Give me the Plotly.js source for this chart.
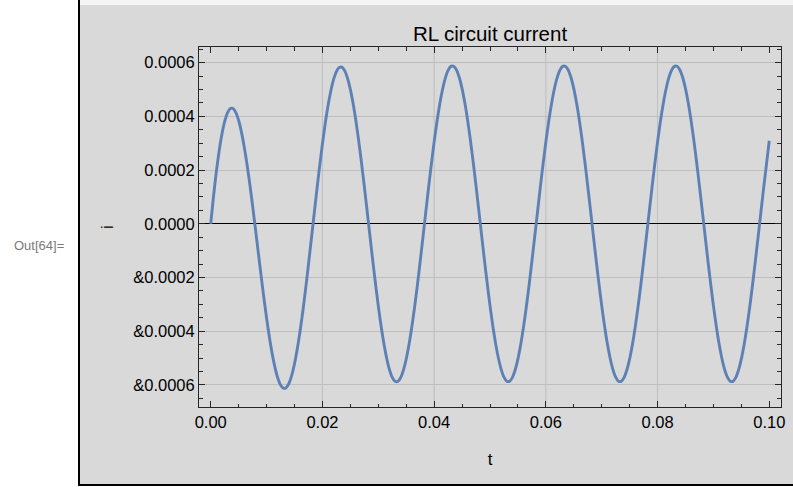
<!DOCTYPE html>
<html>
<head>
<meta charset="utf-8">
<script src="https://cdn.plot.ly/plotly-3.0.1.min.js"></script>
<style>
  html, body { margin: 0; padding: 0; background: #ffffff; }
  #strip { position: absolute; left: 80px; top: 0; width: 713px; height: 5px; background: #f5f5f5; }
  #gray { position: absolute; left: 80px; top: 5px; width: 713px; height: 479px; background: #d9d9d9; }
  #lline { position: absolute; left: 78px; top: 0; width: 2px; height: 486px; background: #000; }
  #bline { position: absolute; left: 78px; top: 484px; width: 715px; height: 2px; background: #000; }
  #chart { position: absolute; left: 0; top: 0; width: 793px; height: 487px; }
</style>
</head>
<body>
<div id="strip"></div>
<div id="gray"></div>
<div id="lline"></div>
<div id="bline"></div>
<div id="chart"></div>
<script>
// time samples (s)
const tValues = [
  0.0000,0.0005,0.0010,0.0015,0.0020,0.0025,0.0030,0.0035,0.0040,0.0045,
  0.0050,0.0055,0.0060,0.0065,0.0070,0.0075,0.0080,0.0085,0.0090,0.0095,
  0.0100,0.0105,0.0110,0.0115,0.0120,0.0125,0.0130,0.0135,0.0140,0.0145,
  0.0150,0.0155,0.0160,0.0165,0.0170,0.0175,0.0180,0.0185,0.0190,0.0195,
  0.0200,0.0205,0.0210,0.0215,0.0220,0.0225,0.0230,0.0235,0.0240,0.0245,
  0.0250,0.0255,0.0260,0.0265,0.0270,0.0275,0.0280,0.0285,0.0290,0.0295,
  0.0300,0.0305,0.0310,0.0315,0.0320,0.0325,0.0330,0.0335,0.0340,0.0345,
  0.0350,0.0355,0.0360,0.0365,0.0370,0.0375,0.0380,0.0385,0.0390,0.0395,
  0.0400,0.0405,0.0410,0.0415,0.0420,0.0425,0.0430,0.0435,0.0440,0.0445,
  0.0450,0.0455,0.0460,0.0465,0.0470,0.0475,0.0480,0.0485,0.0490,0.0495,
  0.0500,0.0505,0.0510,0.0515,0.0520,0.0525,0.0530,0.0535,0.0540,0.0545,
  0.0550,0.0555,0.0560,0.0565,0.0570,0.0575,0.0580,0.0585,0.0590,0.0595,
  0.0600,0.0605,0.0610,0.0615,0.0620,0.0625,0.0630,0.0635,0.0640,0.0645,
  0.0650,0.0655,0.0660,0.0665,0.0670,0.0675,0.0680,0.0685,0.0690,0.0695,
  0.0700,0.0705,0.0710,0.0715,0.0720,0.0725,0.0730,0.0735,0.0740,0.0745,
  0.0750,0.0755,0.0760,0.0765,0.0770,0.0775,0.0780,0.0785,0.0790,0.0795,
  0.0800,0.0805,0.0810,0.0815,0.0820,0.0825,0.0830,0.0835,0.0840,0.0845,
  0.0850,0.0855,0.0860,0.0865,0.0870,0.0875,0.0880,0.0885,0.0890,0.0895,
  0.0900,0.0905,0.0910,0.0915,0.0920,0.0925,0.0930,0.0935,0.0940,0.0945,
  0.0950,0.0955,0.0960,0.0965,0.0970,0.0975,0.0980,0.0985,0.0990,0.0995,
  0.1000
];
// current samples (A)
const iValues = [
  0, 0.0001024, 0.0001929, 0.0002702, 0.0003332, 0.0003809, 0.0004129, 0.0004290, 0.0004293, 0.0004141,
  0.0003844, 0.0003412, 0.0002860, 0.0002205, 0.0001466, 0.0000662, -0.0000182, -0.0001043, -0.0001901, -0.0002728,
  -0.0003508, -0.0004216, -0.0004833, -0.0005345, -0.0005738, -0.0005998, -0.0006121, -0.0006103, -0.0005942, -0.0005642,
  -0.0005210, -0.0004655, -0.0003991, -0.0003235, -0.0002402, -0.0001514, -0.0000594, 0.0000337, 0.0001258, 0.0002144,
  0.0002976, 0.0003732, 0.0004393, 0.0004944, 0.0005373, 0.0005666, 0.0005819, 0.0005828, 0.0005692, 0.0005414,
  0.0005003, 0.0004466, 0.0003819, 0.0003078, 0.0002260, 0.0001385, 0.0000477, -0.0000444, -0.0001356, -0.0002233,
  -0.0003057, -0.0003806, -0.0004460, -0.0005005, -0.0005428, -0.0005716, -0.0005865, -0.0005869, -0.0005730, -0.0005448,
  -0.0005034, -0.0004495, -0.0003845, -0.0003102, -0.0002282, -0.0001404, -0.0000494, 0.0000428, 0.0001341, 0.0002219,
  0.0003046, 0.0003796, 0.0004451, 0.0004997, 0.0005421, 0.0005710, 0.0005859, 0.0005864, 0.0005725, 0.0005444,
  0.0005030, 0.0004491, 0.0003842, 0.0003099, 0.0002279, 0.0001402, 0.0000492, -0.0000430, -0.0001343, -0.0002221,
  -0.0003046, -0.0003796, -0.0004451, -0.0004997, -0.0005421, -0.0005710, -0.0005859, -0.0005864, -0.0005725, -0.0005444,
  -0.0005030, -0.0004491, -0.0003842, -0.0003099, -0.0002279, -0.0001402, -0.0000492, 0.0000430, 0.0001343, 0.0002221,
  0.0003046, 0.0003796, 0.0004451, 0.0004997, 0.0005421, 0.0005710, 0.0005859, 0.0005864, 0.0005725, 0.0005444,
  0.0005030, 0.0004491, 0.0003842, 0.0003099, 0.0002279, 0.0001402, 0.0000492, -0.0000430, -0.0001343, -0.0002221,
  -0.0003046, -0.0003796, -0.0004451, -0.0004997, -0.0005421, -0.0005710, -0.0005859, -0.0005864, -0.0005725, -0.0005444,
  -0.0005030, -0.0004491, -0.0003842, -0.0003099, -0.0002279, -0.0001402, -0.0000492, 0.0000430, 0.0001343, 0.0002221,
  0.0003046, 0.0003796, 0.0004451, 0.0004997, 0.0005421, 0.0005710, 0.0005859, 0.0005864, 0.0005725, 0.0005444,
  0.0005030, 0.0004491, 0.0003842, 0.0003099, 0.0002279, 0.0001402, 0.0000492, -0.0000430, -0.0001343, -0.0002221,
  -0.0003046, -0.0003796, -0.0004451, -0.0004997, -0.0005421, -0.0005710, -0.0005859, -0.0005864, -0.0005725, -0.0005444,
  -0.0005030, -0.0004491, -0.0003842, -0.0003099, -0.0002279, -0.0001402, -0.0000492, 0.0000430, 0.0001343, 0.0002221,
  0.0003090
];
const xTickVals = [0, 0.02, 0.04, 0.06, 0.08, 0.10];
const xTickText = ["0.00", "0.02", "0.04", "0.06", "0.08", "0.10"];
const xGridVals = [0.02, 0.04, 0.06, 0.08];
const yTickVals = [-0.0006, -0.0004, -0.0002, 0, 0.0002, 0.0004, 0.0006];
const yTickText = ["&0.0006", "&0.0004", "&0.0002", "0.0000", "0.0002", "0.0004", "0.0006"];

const FONT = "Liberation Sans, Arial, Helvetica, sans-serif";
const AX = "#262626";
const GRID = "#bebebe";

const trace = {
  x: tValues, y: iValues, type: "scatter", mode: "lines",
  line: { color: "#5E81B5", width: 2.9, shape: "spline", smoothing: 0.6 },
  hoverinfo: "x+y", showlegend: false
};

// vertical grid lines at the inner major x ticks
const gridShapes = xGridVals.map(v => ({
  type: "line", xref: "x", yref: "paper", x0: v, x1: v, y0: 0, y1: 1,
  line: { color: GRID, width: 1 }, layer: "below"
}));

const layout = {
  width: 793, height: 487,
  margin: { l: 199, r: 12, t: 47, b: 80, pad: 0 },
  paper_bgcolor: "rgba(0,0,0,0)",
  plot_bgcolor: "rgba(0,0,0,0)",
  font: { family: FONT, size: 16.5, color: "#000" },
  title: {
    text: "RL circuit current",
    font: { family: FONT, size: 20.5, color: "#000" },
    x: 0.5, xref: "paper", xanchor: "center",
    y: 0.930, yref: "container", yanchor: "middle"
  },
  xaxis: {
    range: [-0.0021, 0.1021],
    tickmode: "array", tickvals: xTickVals, ticktext: xTickText,
    ticks: "inside", ticklen: 6, tickwidth: 1, tickcolor: AX,
    minor: { dtick: 0.005, tick0: 0, ticks: "inside", ticklen: 3.5, tickwidth: 1, tickcolor: AX, showgrid: false },
    showline: true, linecolor: AX, linewidth: 1, mirror: "ticks",
    showgrid: false, zeroline: false,
    tickfont: { family: FONT, size: 16.5, color: "#000" },
    title: { text: "t", font: { family: FONT, size: 17, color: "#000" }, standoff: 23 },
    automargin: false
  },
  yaxis: {
    range: [-0.000682, 0.000658],
    tickmode: "array", tickvals: yTickVals, ticktext: yTickText,
    ticks: "inside", ticklen: 6, tickwidth: 1, tickcolor: AX,
    minor: { dtick: 0.00005, tick0: 0, ticks: "inside", ticklen: 4, tickwidth: 1, tickcolor: AX, showgrid: false },
    showline: true, linecolor: AX, linewidth: 1, mirror: "ticks",
    showgrid: true, gridcolor: GRID, gridwidth: 1,
    zeroline: true, zerolinecolor: "#000", zerolinewidth: 1,
    tickfont: { family: FONT, size: 16.5, color: "#000" },
    ticklabelstandoff: 0,
    title: { text: "i", font: { family: FONT, size: 17, color: "#000" }, standoff: 15 },
    automargin: false
  },
  shapes: gridShapes,
  annotations: [{
    text: "Out[64]=", xref: "paper", yref: "paper",
    x: -0.3213, y: 0.448, xanchor: "left", yanchor: "middle",
    showarrow: false, font: { family: FONT, size: 13, color: "#7a7a7a" }
  }]
};

Plotly.newPlot("chart", [trace], layout, { displayModeBar: false, staticPlot: true });
</script>
</body>
</html>
